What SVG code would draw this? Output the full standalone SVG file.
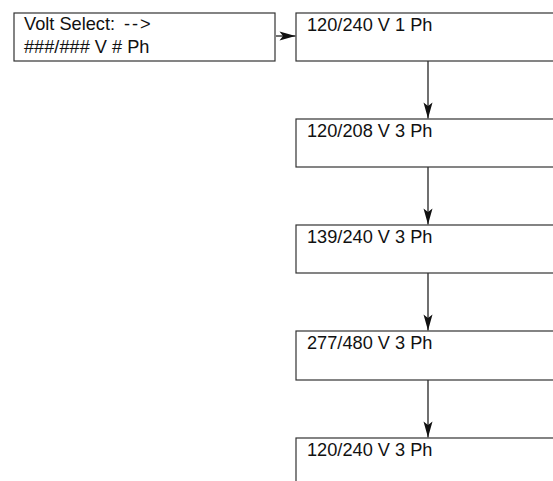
<svg xmlns="http://www.w3.org/2000/svg" width="553" height="481" viewBox="0 0 553 481">
<style>
.box{fill:#fff;stroke:#333;stroke-width:1.2}
.t{font-family:"Liberation Sans",Arial,sans-serif;font-size:18.2px;fill:#111}
.c{stroke:#111;stroke-width:1.2;fill:none}
</style>
<defs>
<marker id="ah" markerUnits="userSpaceOnUse" markerWidth="20" markerHeight="12" viewBox="-17 -6 18 12" refX="0" refY="0" orient="auto">
<path d="M0,0 L-16,-4.5 L-12.5,0 L-16,4.5 Z" fill="#111"/>
</marker>
</defs>
<rect width="553" height="481" fill="#fff"/>
<g id="connectors">
<line class="c" x1="276" y1="36" x2="295.5" y2="36" marker-end="url(#ah)"/>
<line class="c" x1="428" y1="61" x2="428" y2="118.5" marker-end="url(#ah)"/>
<line class="c" x1="428" y1="167" x2="428" y2="224.5" marker-end="url(#ah)"/>
<line class="c" x1="428" y1="273" x2="428" y2="330.5" marker-end="url(#ah)"/>
<line class="c" x1="428" y1="380" x2="428" y2="437.5" marker-end="url(#ah)"/>
</g>
<g id="select">
<rect class="box" x="14" y="13" width="261" height="48"/>
<text class="t" x="24" y="30">Volt Select: <tspan x="124" letter-spacing="2">--&gt;</tspan></text>
<text class="t" x="24" y="53">###/### V # Ph</text>
</g>
<g id="v1">
<rect class="box" x="296" y="13" width="270" height="48"/>
<text class="t" x="307" y="31">120/240 V 1 Ph</text>
</g>
<g id="v2">
<rect class="box" x="296" y="119" width="270" height="48"/>
<text class="t" x="307" y="137">120/208 V 3 Ph</text>
</g>
<g id="v3">
<rect class="box" x="296" y="225" width="270" height="48"/>
<text class="t" x="307" y="243">139/240 V 3 Ph</text>
</g>
<g id="v4">
<rect class="box" x="296" y="331" width="270" height="49"/>
<text class="t" x="307" y="349">277/480 V 3 Ph</text>
</g>
<g id="v5">
<rect class="box" x="296" y="438" width="270" height="60"/>
<text class="t" x="307" y="456">120/240 V 3 Ph</text>
</g>
</svg>
